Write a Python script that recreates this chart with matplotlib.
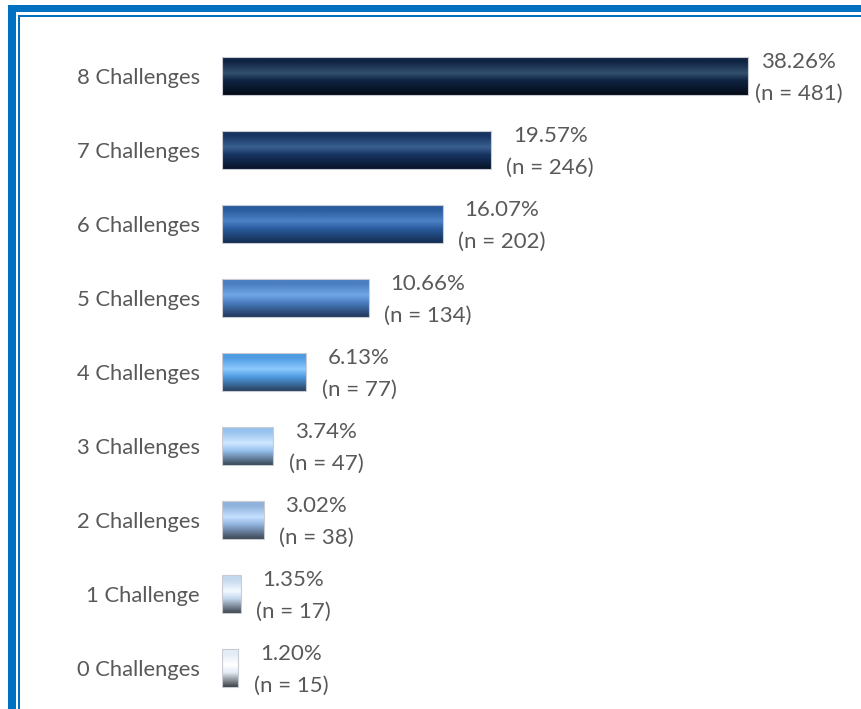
import matplotlib
matplotlib.use("Agg")
import matplotlib.pyplot as plt
from matplotlib.colors import LinearSegmentedColormap
from matplotlib.patches import Rectangle
import numpy as np

plt.rcParams['font.family'] = ['Lato', 'DejaVu Sans']

categories = ["0 Challenges", "1 Challenge", "2 Challenges", "3 Challenges",
              "4 Challenges", "5 Challenges", "6 Challenges", "7 Challenges",
              "8 Challenges"]
percents = [1.20, 1.35, 3.02, 3.74, 6.13, 10.66, 16.07, 19.57, 38.26]
counts = [15, 17, 38, 47, 77, 134, 202, 246, 481]

# top colour, highlight, bottom colour for each bar (gradient fill)
grads = [
    ("#e4ecf6", "#ffffff", "#3e4246"),
    ("#c4d8ee", "#f4f9ff", "#40474f"),
    ("#8fb2dc", "#c6e0ff", "#3e4856"),
    ("#98c2ee", "#cfe7ff", "#394858"),
    ("#4f9ce2", "#8ccaff", "#27415e"),
    ("#4a7ec2", "#70a6e4", "#22385a"),
    ("#2a5c9e", "#4c82c6", "#132b50"),
    ("#173462", "#3a6192", "#08142a"),
    ("#0f2442", "#33506f", "#050b16"),
]

text_color = "#595959"
W, H = 862, 709

fig = plt.figure(figsize=(W / 100, H / 100), dpi=100)

# frame drawn in pixel coordinates
bg = fig.add_axes([0, 0, 1, 1])
bg.set_xlim(0, W)
bg.set_ylim(H, 0)
bg.axis("off")
blue = "#0070c0"
bg.add_patch(Rectangle((8, 5), W, 7, color=blue, lw=0))
bg.add_patch(Rectangle((8, 5), 8, H, color=blue, lw=0))
bg.add_patch(Rectangle((18, 15), W, 2, color=blue, lw=0))
bg.add_patch(Rectangle((18, 15), 2, H, color=blue, lw=0))

ax = fig.add_axes([222 / W, 0, (W - 222) / W, 1])
ax.patch.set_alpha(0)
y = np.arange(len(categories))
bh = 0.51
bars = ax.barh(y, percents, height=bh, color="none", edgecolor="#c8ccd2", lw=0.8, zorder=3)

for b, (c0, c1, c2) in zip(bars, grads):
    cmap = LinearSegmentedColormap.from_list("g", [(0, c0), (0.12, c0), (0.42, c1), (0.62, c0), (1, c2)])
    grad = np.linspace(0, 1, 100).reshape(-1, 1)
    x0, y0 = b.get_x(), b.get_y()
    ax.imshow(grad, cmap=cmap, aspect="auto", origin="upper",
              extent=[x0, x0 + b.get_width(), y0, y0 + b.get_height()], zorder=2)

for i, (p, n) in enumerate(zip(percents, counts)):
    # the longest bar's label is pulled in so it stays inside the frame
    off = 5 if p == max(percents) else 11
    ax.annotate("%.2f%%\n(n = %d)" % (p, n), xy=(p, i), xytext=(off, -1.5),
                textcoords="offset points", ha="left", va="center",
                multialignment="center", fontsize=16, color=text_color,
                linespacing=1.75)

ax.set_xlim(0, (W - 222) / 13.75)
ax.set_ylim((668 - H) / 74, 668 / 74)
ax.set_yticks(y)
ax.set_yticklabels(categories, fontsize=15.8, color=text_color)
ax.tick_params(axis="y", length=0, pad=16)
ax.set_xticks([])
for s in ax.spines.values():
    s.set_visible(False)

fig.savefig("out.png", dpi=100)
